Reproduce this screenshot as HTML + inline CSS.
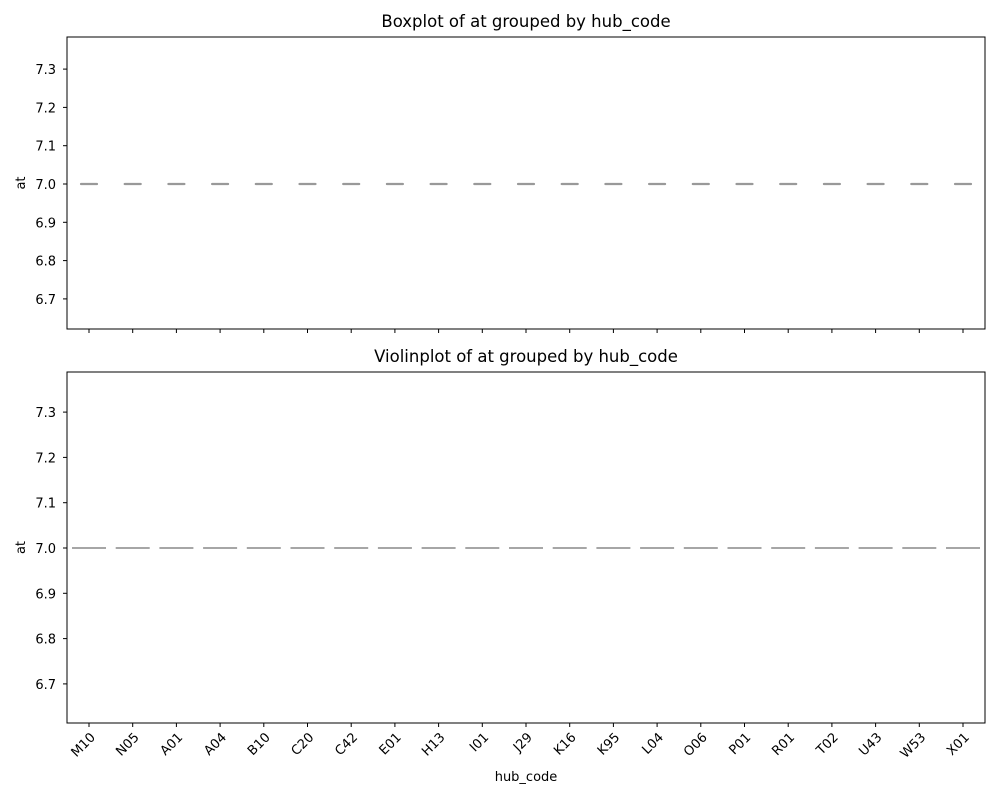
<!DOCTYPE html>
<html><head><meta charset="utf-8"><style>
body{margin:0;background:#fff}
svg text{font-family:"DejaVu Sans","Liberation Sans",sans-serif;fill:#000}
</style></head><body>
<svg id="chart" width="1000" height="800" xmlns="http://www.w3.org/2000/svg"></svg>
<script>
const categories=["M10","N05","A01","A04","B10","C20","C42","E01","H13","I01","J29","K16","K95","L04","O06","P01","R01","T02","U43","W53","X01"];
const boxMedians=[7,7,7,7,7,7,7,7,7,7,7,7,7,7,7,7,7,7,7,7,7];
const violinValues=[7,7,7,7,7,7,7,7,7,7,7,7,7,7,7,7,7,7,7,7,7];
const yTicks=[6.7,6.8,6.9,7.0,7.1,7.2,7.3];
const yTickLabels=["6.7","6.8","6.9","7.0","7.1","7.2","7.3"];
const NS="http://www.w3.org/2000/svg";
const svg=document.getElementById('chart');
function mk(t,a,p){const e=document.createElementNS(NS,t);for(const k in a)e.setAttribute(k,a[k]);(p||svg).appendChild(e);return e;}
const L=67,R=985,FS=13;
const xScale=i=>89+i*(963-89)/(categories.length-1);
const panels=[
 {top:37,bot:329,y70:184,per:38.3,title:"Boxplot of at grouped by hub_code",kind:"box",vals:boxMedians,name:"boxplot-panel"},
 {top:372,bot:723,y70:548,per:45.3,title:"Violinplot of at grouped by hub_code",kind:"violin",vals:violinValues,name:"violinplot-panel"}
];
panels.forEach((p,pi)=>{
 const g=mk('g',{});
 
 
 const yScale=v=>p.y70-(v-7.0)*p.per*10;
 const t=mk('text',{x:(L+R)/2,y:p.top-10,'text-anchor':'middle','font-size':16.5},g);t.textContent=p.title;
 
 yTicks.forEach((v,i)=>{
  const y=yScale(v);
  mk('line',{x1:L-4,x2:L,y1:y,y2:y,stroke:'#000','stroke-width':1},g);
  const tl=mk('text',{x:L-11,y:y+5,'text-anchor':'end','font-size':FS},g);tl.textContent=yTickLabels[i];
  
 });
 const yl=mk('text',{x:25,y:(p.top+p.bot)/2,'text-anchor':'middle','font-size':FS,transform:`rotate(-90 25 ${(p.top+p.bot)/2})`},g);yl.textContent="at";
 
 categories.forEach((c,i)=>{
  const x=xScale(i);
  mk('line',{x1:x,x2:x,y1:p.bot,y2:p.bot+4,stroke:'#000','stroke-width':1},g);
  const y=yScale(p.vals[i]);
  if(p.kind==="box"){
   const m=mk('line',{x1:x-8,x2:x+8,y1:y,y2:y,stroke:'#999','stroke-width':2.2,'stroke-linecap':'round'},g);
   
  } else {
   const m=mk('line',{x1:x-17,x2:x+17,y1:y,y2:y,stroke:'#888','stroke-width':1.6},g);
   
   const tx=x+7,ty=p.bot+15;
   const tl=mk('text',{x:tx,y:ty,'text-anchor':'end','font-size':FS,transform:`rotate(-45 ${tx} ${ty})`},g);tl.textContent=c;
   
  }
 });
 const fr=mk('rect',{x:L,y:p.top,width:R-L,height:p.bot-p.top,fill:'none',stroke:'#000','stroke-width':1},g);
 
});
const xt=mk('text',{x:(L+R)/2,y:781,'text-anchor':'middle','font-size':FS});xt.textContent="hub_code";


</script>
</body></html>
